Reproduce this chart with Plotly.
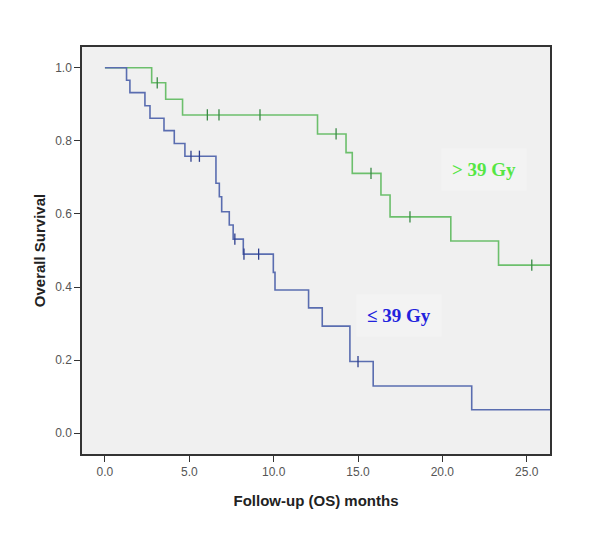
import numpy as np
import plotly.graph_objects as go

# ---- data ----
high_times = [0, 2.77, 3.6, 4.6, 12.6, 14.29, 14.66, 16.36, 16.9, 20.5, 23.33]
high_surv = [1.0, 0.959, 0.914, 0.871, 0.819, 0.768, 0.711, 0.652, 0.592, 0.526, 0.46]
high_censor = [3.1, 6.07, 6.76, 9.19, 13.7, 15.77, 18.08, 25.3]

low_times = [0, 1.28, 1.48, 2.37, 2.67, 3.5, 4.11, 4.74, 6.58, 6.78, 6.92, 7.37, 7.6,
             8.2, 9.98, 10.08, 12.07, 12.88, 14.52, 15.9, 21.74]
low_surv = [1.0, 0.966, 0.932, 0.896, 0.862, 0.828, 0.793, 0.758, 0.684, 0.647, 0.606,
            0.57, 0.531, 0.49, 0.44, 0.392, 0.343, 0.293, 0.196, 0.129, 0.064]
low_censor = [5.1, 5.6, 7.7, 8.24, 9.11, 15.0]

last_followup = 26.4
x_ticks = [0, 5, 10, 15, 20, 25]
y_ticks = [0.0, 0.2, 0.4, 0.6, 0.8, 1.0]

group_labels = ["&gt; 39 Gy", "≤ 39 Gy"]
label_pos_x = [22.44, 17.43]
label_pos_y = [0.723, 0.321]


def step_at(times, surv, t):
    idx = np.searchsorted(np.array(times), np.array(t), side="right") - 1
    return list(np.array(surv)[idx])


fig = go.Figure()

groups = [
    (high_times, high_surv, high_censor, "#6cbf6c", "#3a8a45", "#55e644"),
    (low_times, low_surv, low_censor, "#5a6db0", "#2e3f8e", "#2222dd"),
]
for i, (times, surv, cens, lc, cc, tc) in enumerate(groups):
    fig.add_trace(go.Scatter(
        x=list(times) + [last_followup], y=list(surv) + [surv[-1]],
        mode="lines", line=dict(color=lc, width=1.6, shape="hv"),
        showlegend=False, hoverinfo="skip"))
    fig.add_trace(go.Scatter(
        x=cens, y=step_at(times, surv, cens), mode="markers",
        marker=dict(symbol="line-ns-open", size=8, color=cc,
                    line=dict(color=cc, width=1.3)),
        showlegend=False, hoverinfo="skip"))
    fig.add_annotation(
        x=label_pos_x[i], y=label_pos_y[i], xref="x", yref="y",
        xanchor="center", yanchor="middle",
        text="<b>" + group_labels[i] + "</b>", showarrow=False,
        font=dict(family="Liberation Serif", size=19, color=tc),
        bgcolor="#f3f3f3", borderpad=10)

axis_common = dict(
    showline=True, mirror=True, linecolor="#333333", linewidth=1.5,
    ticks="outside", ticklen=6, tickwidth=1.3, tickcolor="#333333",
    showgrid=False, zeroline=False,
    tickfont=dict(family="Arial, Liberation Sans", size=12, color="#555555"),
)

fig.update_layout(
    width=600, height=542,
    margin=dict(l=74, r=58, t=39, b=96),
    paper_bgcolor="white", plot_bgcolor="#f0f0f0",
    xaxis=dict(range=[-1.36, 26.38], tickvals=x_ticks, tickformat=".1f",
               title=dict(text="<b>Follow-up (OS) months</b>", standoff=17,
                          font=dict(family="Arial, Liberation Sans", size=15, color="#222222")),
               **axis_common),
    yaxis=dict(range=[-0.057, 1.057], tickvals=y_ticks, tickformat=".1f",
               title=dict(text="<b>Overall Survival</b>", standoff=6,
                          font=dict(family="Arial, Liberation Sans", size=15, color="#222222")),
               **axis_common),
)

fig.write_html("out.html")
